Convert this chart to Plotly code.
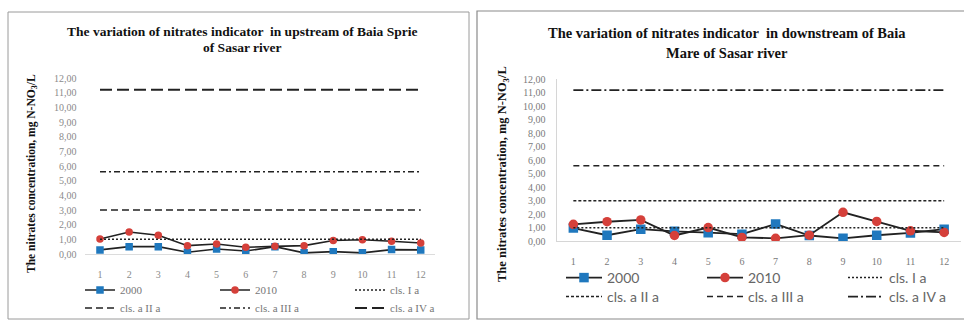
import plotly.graph_objects as go

W, H = 964, 322

months = list(range(1, 13))
month_labels = [str(m) for m in months]

# upstream of Baia Sprie
up_2000 = [0.28, 0.50, 0.50, 0.12, 0.34, 0.20, 0.50, 0.08, 0.16, 0.08, 0.30, 0.28]
up_2010 = [1.02, 1.50, 1.28, 0.57, 0.68, 0.46, 0.52, 0.57, 0.92, 0.97, 0.87, 0.75]

# downstream of Baia Mare
down_2000 = [0.98, 0.45, 0.90, 0.74, 0.64, 0.53, 1.28, 0.43, 0.22, 0.45, 0.62, 0.90]
down_2010 = [1.26, 1.45, 1.58, 0.43, 1.02, 0.29, 0.22, 0.45, 2.15, 1.47, 0.78, 0.66]

class_limits = [1.0, 3.0, 5.6, 11.2]
class_names = ["cls. I a", "cls. a II a", "cls. a III a", "cls. a IV a"]

y_ticks = [0, 1, 2, 3, 4, 5, 6, 7, 8, 9, 10, 11, 12]

BLUE = "#1F78BE"
RED = "#D5403A"
SERIF = "Liberation Serif"
SANS = "Lato"


def px(x):
    return x / W


def py(y):
    return 1 - y / H


fig = go.Figure()

# ---------- left panel ----------
left_dash = ["2px,2px", "7px,4px", "6px,3px,2px,3px", "12px,5px"]
left_width = [1.5, 1.5, 1.5, 2]

fig.add_trace(go.Scatter(x=months, y=up_2000, name="2000", mode="lines+markers",
                         line=dict(color="#222", width=1.6),
                         marker=dict(symbol="square", size=7.5, color=BLUE),
                         xaxis="x", yaxis="y", legend="legend"))
fig.add_trace(go.Scatter(x=months, y=up_2010, name="2010", mode="lines+markers",
                         line=dict(color="#222", width=1.6),
                         marker=dict(symbol="circle", size=7.5, color=RED),
                         xaxis="x", yaxis="y", legend="legend"))
for i, (lim, nm) in enumerate(zip(class_limits, class_names)):
    fig.add_trace(go.Scatter(x=months, y=[lim] * len(months), name=nm, mode="lines",
                             line=dict(color="#222", width=left_width[i], dash=left_dash[i]),
                             xaxis="x", yaxis="y",
                             legend="legend" if i == 0 else "legend2"))

# ---------- right panel ----------
right_dash = ["2px,2px", "3px,2px", "6px,4px", "10px,3px,2px,3px"]
right_width = [1.5, 1.5, 1.5, 1.8]

fig.add_trace(go.Scatter(x=months, y=down_2000, name="2000", mode="lines+markers",
                         line=dict(color="#222", width=1.8),
                         marker=dict(symbol="square", size=9.5, color=BLUE),
                         xaxis="x2", yaxis="y2", legend="legend3"))
fig.add_trace(go.Scatter(x=months, y=down_2010, name="2010", mode="lines+markers",
                         line=dict(color="#222", width=1.8),
                         marker=dict(symbol="circle", size=9.5, color=RED),
                         xaxis="x2", yaxis="y2", legend="legend3"))
for i, (lim, nm) in enumerate(zip(class_limits, class_names)):
    fig.add_trace(go.Scatter(x=months, y=[lim] * len(months), name=nm, mode="lines",
                             line=dict(color="#222", width=right_width[i], dash=right_dash[i]),
                             xaxis="x2", yaxis="y2",
                             legend="legend3" if i == 0 else "legend4"))

tick_font_l = dict(family=SERIF, size=10, color="#8a8a8a")
tick_font_r = dict(family=SERIF, size=10, color="#7a7a7a")

axis_common = dict(showgrid=False, zeroline=False, ticks="", fixedrange=True, automargin=False)

layout = dict(
    width=W, height=H,
    margin=dict(l=0, r=0, t=0, b=0, pad=0, autoexpand=False),
    paper_bgcolor="white", plot_bgcolor="white",
    separators=", ",
    xaxis=dict(domain=[px(85.4), px(435.3)], range=[0.5, 12.5], tickvals=months,
               ticktext=month_labels, showline=True, linecolor="#dcdcdc", linewidth=1,
               tickfont=tick_font_l, ticklabelstandoff=11, anchor="y", **axis_common),
    yaxis=dict(domain=[py(254), py(78)], range=[0, 12], tickvals=y_ticks, tickformat=".2f",
               showline=False, tickfont=tick_font_l, ticklabelstandoff=8, anchor="x",
               **axis_common),
    xaxis2=dict(domain=[px(556.5), px(961)], range=[0.5, 12.5], tickvals=months,
                ticktext=month_labels, showline=True, linecolor="#d6d6d6", linewidth=1,
                tickfont=tick_font_r, ticklabelstandoff=11, anchor="y2", **axis_common),
    yaxis2=dict(domain=[py(241.3), py(79.3)], range=[0, 12], tickvals=y_ticks, tickformat=".2f",
                showline=True, linecolor="#d6d6d6", linewidth=1,
                tickfont=tick_font_r, ticklabelstandoff=8, anchor="x2", **axis_common),
    showlegend=True,
)

leg_l = dict(orientation="h", xanchor="left", yanchor="middle", bgcolor="rgba(0,0,0,0)",
             font=dict(family=SERIF, size=11, color="#777"), itemwidth=30,
             entrywidth=90, entrywidthmode="pixels", tracegroupgap=0, traceorder="normal")
leg_r = dict(orientation="h", xanchor="left", yanchor="middle", bgcolor="rgba(0,0,0,0)",
             font=dict(family=SANS, size=14, color="#666"), itemwidth=36,
             entrywidth=90, entrywidthmode="pixels", tracegroupgap=0, traceorder="normal")
layout["legend"] = dict(x=px(80), y=py(290), **leg_l)
layout["legend2"] = dict(x=px(80), y=py(308), **leg_l)
layout["legend3"] = dict(x=px(561), y=py(278), **leg_r)
layout["legend4"] = dict(x=px(561), y=py(297), **leg_r)

fig.update_layout(**layout)

# panel frames
fig.add_shape(type="rect", xref="paper", yref="paper", x0=px(8), x1=px(469), y0=py(319), y1=py(12),
              line=dict(color="#9a9a9a", width=1), layer="below")
fig.add_shape(type="rect", xref="paper", yref="paper", x0=px(477), x1=px(975), y0=py(319), y1=py(11),
              line=dict(color="#8a8a8a", width=1.2), layer="below")

title_font_l = dict(family=SERIF, size=13.5, color="#111")
title_font_r = dict(family=SERIF, size=14.5, color="#111")

ann = [
    dict(text="<b>The variation of nitrates indicator  in upstream of Baia Sprie</b>",
         x=px(242), y=py(32), font=title_font_l),
    dict(text="<b>of Sasar river</b>", x=px(242), y=py(47), font=title_font_l),
    dict(text="<b>The variation of nitrates indicator  in downstream of Baia</b>",
         x=px(727), y=py(33), font=title_font_r),
    dict(text="<b>Mare of Sasar river</b>", x=px(727), y=py(53), font=title_font_r),
    dict(text="<b>The nitrates concentration, mg N-NO<sub>3</sub>/L</b>", textangle=-90,
         x=px(32), y=py(174), font=dict(family=SERIF, size=11.5, color="#111")),
    dict(text="<b>The nitrates concentration, mg N-NO<sub>3</sub>/L</b>", textangle=-90,
         x=px(503), y=py(174), font=dict(family=SERIF, size=12.5, color="#111")),
]
for a in ann:
    fig.add_annotation(xref="paper", yref="paper", showarrow=False,
                       xanchor="center", yanchor="middle", **a)

fig.write_html("out.html", config={"displayModeBar": False},
               post_script="document.body.style.margin='0';document.body.style.overflow='hidden';")
